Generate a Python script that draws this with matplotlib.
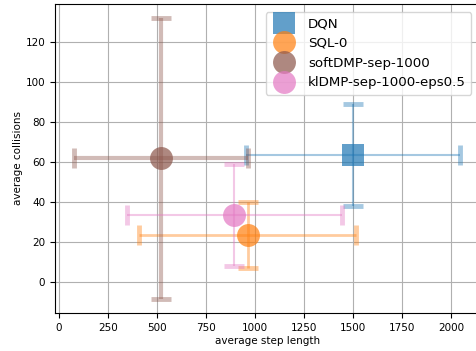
import numpy as np
import matplotlib
matplotlib.use('Agg')
import matplotlib.pyplot as plt

# method names and their stats (mean and std of step length / collisions)
labels = ['DQN', 'SQL-0', 'softDMP-sep-1000', 'klDMP-sep-1000-eps0.5']
step_mean = [1500, 963, 520, 893]
step_std = [545, 553, 443, 548]
coll_mean = [63.5, 23.5, 61.8, 33.5]
coll_std = [25.7, 16.5, 70.5, 25.7]
markers = ['s', 'o', 'o', 'o']
colors = ['tab:blue', 'tab:orange', 'tab:brown', 'tab:pink']
line_widths = [1.5, 2.0, 3.0, 1.5]

fig = plt.figure(figsize=(4.77, 3.51), dpi=100)
ax = fig.add_axes([0.115, 0.108, 0.89, 0.881])

for i in range(len(labels)):
    ax.errorbar(step_mean[i], coll_mean[i], xerr=step_std[i], yerr=coll_std[i],
                fmt='none', ecolor=colors[i], elinewidth=line_widths[i],
                capsize=7, capthick=3.5, alpha=0.4)
    ax.plot(step_mean[i], coll_mean[i], marker=markers[i], color=colors[i],
            markersize=16.5, alpha=0.7, linestyle='none', label=labels[i],
            markeredgewidth=0)

ax.set_xticks([0, 250, 500, 750, 1000, 1250, 1500, 1750, 2000])
ax.set_yticks([0, 20, 40, 60, 80, 100, 120])
ax.tick_params(labelsize=7.5)
ax.set_xlabel('average step length', fontsize=7.5, labelpad=2)
ax.set_ylabel('average collisions', fontsize=7.5, labelpad=2)
ax.grid(True, color='#b0b0b0', linewidth=0.8)
ax.set_axisbelow(True)
ax.legend(loc='upper right', fontsize=9.6, borderaxespad=0.6)

fig.savefig('out.png', dpi=100)
